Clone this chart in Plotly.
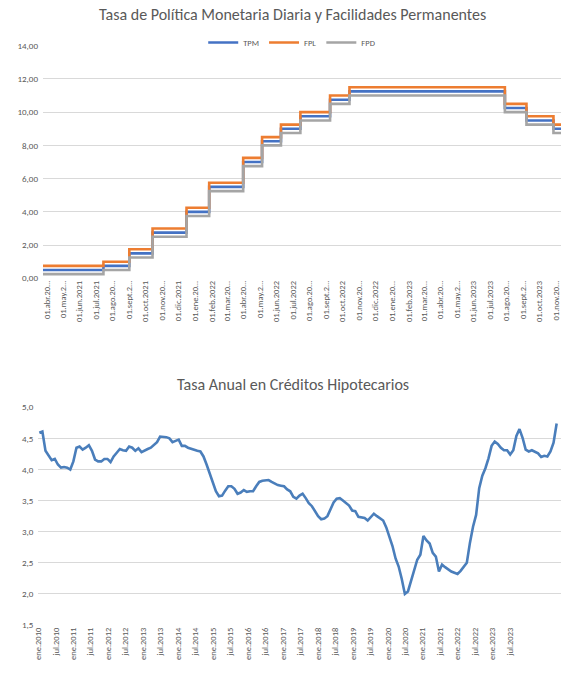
import pandas as pd
import plotly.graph_objects as go

# --- Tasa de política monetaria (fechas de cambio y niveles) ---
tpm_fechas = ["2021-03-25", "2021-07-15", "2021-09-01", "2021-10-14", "2021-12-16",
              "2022-01-27", "2022-03-31", "2022-05-05", "2022-06-09", "2022-07-15",
              "2022-09-08", "2022-10-14", "2023-07-29", "2023-09-07", "2023-10-27",
              "2023-11-12"]
tpm = [0.50, 0.75, 1.50, 2.75, 4.00, 5.50, 7.00, 8.25, 9.00, 9.75,
       10.75, 11.25, 10.25, 9.50, 9.00, 9.00]
fpl = [0.75, 1.00, 1.75, 3.00, 4.25, 5.75, 7.25, 8.50, 9.25, 10.00,
       11.00, 11.50, 10.50, 9.75, 9.25, 9.25]
fpd = [0.25, 0.50, 1.25, 2.50, 3.75, 5.25, 6.75, 8.00, 8.75, 9.50,
       10.50, 11.00, 10.00, 9.25, 8.75, 8.75]

tpm_labels = ["01.abr.20…", "01.may.2…", "01.jun.2021", "01.jul.2021", "01.ago.20…",
              "01.sept.2…", "01.oct.2021", "01.nov.20…", "01.dic.2021", "01.ene.20…",
              "01.feb.2022", "01.mar.20…", "01.abr.20…", "01.may.2…", "01.jun.2022",
              "01.jul.2022", "01.ago.20…", "01.sept.2…", "01.oct.2022", "01.nov.20…",
              "01.dic.2022", "01.ene.20…", "01.feb.2023", "01.mar.20…", "01.abr.20…",
              "01.may.2…", "01.jun.2023", "01.jul.2023", "01.ago.20…", "01.sept.2…",
              "01.oct.2023", "01.nov.20…"]

# --- Tasa anual en créditos hipotecarios (mensual) ---
hip_tasa = [
    4.59, 4.61, 4.30, 4.22, 4.15, 4.17, 4.08, 4.03, 4.04, 4.03,
    4.00, 4.13, 4.35, 4.37, 4.32, 4.35, 4.39, 4.30, 4.16, 4.13,
    4.13, 4.17, 4.17, 4.12, 4.21, 4.27, 4.33, 4.31, 4.30, 4.37,
    4.35, 4.30, 4.34, 4.28, 4.31, 4.33, 4.35, 4.40, 4.44, 4.53,
    4.53, 4.52, 4.50, 4.44, 4.46, 4.48, 4.38, 4.38, 4.35, 4.33,
    4.31, 4.30, 4.29, 4.21, 4.08, 3.94, 3.81, 3.65, 3.57, 3.58,
    3.66, 3.73, 3.73, 3.69, 3.61, 3.63, 3.67, 3.64, 3.65, 3.65,
    3.73, 3.80, 3.82, 3.83, 3.83, 3.80, 3.77, 3.75, 3.74, 3.73,
    3.68,
    3.65, 3.56, 3.53, 3.58, 3.61, 3.54, 3.46, 3.41, 3.33, 3.25,
    3.20, 3.21, 3.25, 3.36, 3.47, 3.53, 3.54, 3.50, 3.46, 3.42,
    3.34, 3.33, 3.24, 3.23, 3.22, 3.18, 3.24, 3.29, 3.25, 3.22,
    3.18, 3.07, 2.93, 2.77, 2.57, 2.44, 2.24, 2.00, 2.04, 2.22,
    2.41, 2.55, 2.63, 2.93, 2.86, 2.81, 2.66, 2.60, 2.36, 2.47,
    2.43, 2.39, 2.36, 2.34, 2.32, 2.37, 2.43, 2.50, 2.82, 3.08,
    3.27, 3.70, 3.90, 4.02, 4.18, 4.38, 4.45, 4.41, 4.35, 4.31,
    4.31, 4.24, 4.31, 4.54, 4.65, 4.51, 4.32, 4.29, 4.31, 4.29,
    4.26, 4.20, 4.22, 4.21, 4.29, 4.43, 4.74,
]
hip_labels = []
for yr in range(2010, 2024):
    hip_labels += ["ene.%d" % yr, "jul.%d" % yr]

W, H = 561, 677
FONT = "Carlito, Calibri, 'Liberation Sans', Arial, sans-serif"
GRAY_TXT = "#595959"
GRID = "#d9d9d9"


def ydom(top_px, bottom_px):
    return [1 - bottom_px / H, 1 - top_px / H]


fig = go.Figure()

for name, vals, color in [("TPM", tpm, "#4472C4"), ("FPL", fpl, "#ED7D31"), ("FPD", fpd, "#A5A5A5")]:
    fig.add_trace(go.Scatter(x=pd.to_datetime(tpm_fechas), y=vals, name=name,
                             mode="lines", line=dict(color=color, width=2.6, shape="hv"),
                             xaxis="x", yaxis="y"))

hip_x = list(range(len(hip_tasa)))
fig.add_trace(go.Scatter(x=hip_x, y=hip_tasa, name="Hipotecario", mode="lines",
                         line=dict(color="#4A7EBB", width=2.6), showlegend=False,
                         xaxis="x2", yaxis="y2"))

# label spacing in months on the lower axis (as drawn in the original)
step = 5.64
hip_ticks = [-0.32 + step * i for i in range(len(hip_labels))]
tpm_ticks = pd.date_range("2021-04-01", periods=len(tpm_labels), freq="MS")

tick_font = dict(family=FONT, size=8.5, color=GRAY_TXT)

fig.update_layout(
    width=W, height=H,
    margin=dict(l=0, r=0, t=0, b=0),
    paper_bgcolor="white", plot_bgcolor="white",
    separators=",.",
    font=dict(family=FONT, color=GRAY_TXT),
    showlegend=True,
    legend=dict(orientation="h", x=0.52, xanchor="center", y=1 - 42.5 / H, yanchor="middle",
                font=dict(family=FONT, size=8.5, color=GRAY_TXT), itemwidth=30,
                bgcolor="rgba(0,0,0,0)", tracegroupgap=0),
    xaxis=dict(domain=[43 / W, 1], type="date",
               range=["2021-03-25", "2023-11-10"],
               tickvals=tpm_ticks, ticktext=tpm_labels, tickangle=-90,
               ticklabeloverflow="allow",
               tickfont=tick_font, showgrid=False, showline=False, zeroline=False,
               ticks="", automargin=False, anchor="y"),
    yaxis=dict(domain=ydom(45.7, 278.3), range=[0, 14], dtick=2, tickformat=".2f",
               tickfont=dict(family=FONT, size=9, color=GRAY_TXT), ticklabelstandoff=4,
               showgrid=True, gridcolor=GRID, gridwidth=1, zeroline=False,
               showline=False, ticks="", automargin=False, anchor="x"),
    xaxis2=dict(domain=[38.3 / W, 1], range=[-0.32, len(hip_tasa) + 0.4],
                tickvals=hip_ticks, ticktext=hip_labels, tickangle=-90,
                ticklabeloverflow="allow",
                tickfont=tick_font, showgrid=False, showline=False, zeroline=False,
                ticks="", automargin=False, anchor="y2"),
    yaxis2=dict(domain=ydom(407.3, 625), range=[1.5, 5.0], dtick=0.5, tickformat=".1f",
                tickfont=dict(family=FONT, size=9, color=GRAY_TXT), ticklabelstandoff=4,
                showgrid=True, gridcolor=GRID, gridwidth=1, zeroline=False,
                showline=False, ticks="", automargin=False, anchor="x2"),
    annotations=[
        dict(text="Tasa de Política Monetaria Diaria y Facilidades Permanentes",
             x=292 / W, y=1 - 15 / H, xref="paper", yref="paper", showarrow=False,
             xanchor="center", yanchor="middle",
             font=dict(family=FONT, size=16, color=GRAY_TXT)),
        dict(text="Tasa Anual en Créditos Hipotecarios",
             x=293 / W, y=1 - 384 / H, xref="paper", yref="paper", showarrow=False,
             xanchor="center", yanchor="middle",
             font=dict(family=FONT, size=16, color=GRAY_TXT)),
    ],
)

fig.write_html("out.html", config={"displayModeBar": False},
               post_script="document.body.style.margin='0';")
